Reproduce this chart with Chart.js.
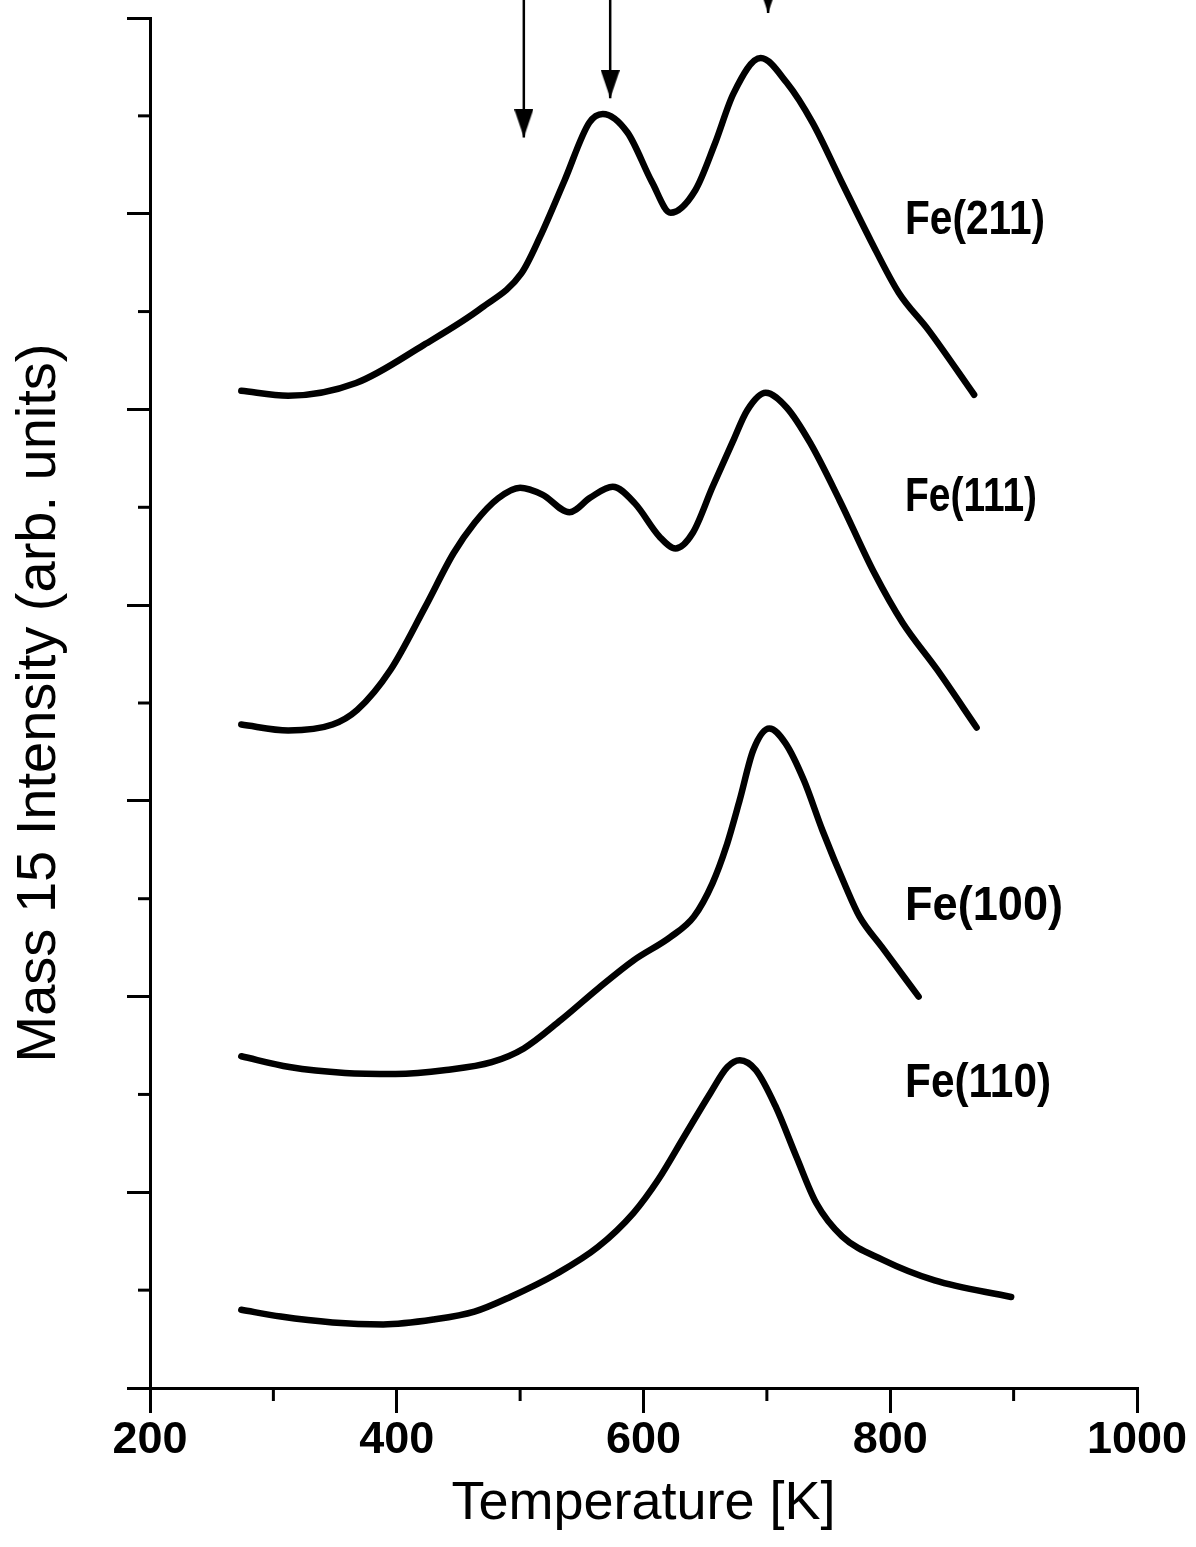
<!DOCTYPE html>
<html><head><meta charset="utf-8">
<script src="https://cdn.jsdelivr.net/npm/chart.js@4.4.1/dist/chart.umd.min.js"></script>
<style>html,body{margin:0;padding:0;background:#fff;}canvas{display:block;}</style>
</head><body>
<canvas id="c" width="1196" height="1547"></canvas>
<script>
// ---- data ----
const fe211T = [274, 312, 367, 422, 469, 501, 516, 536, 556, 567, 587, 607, 622, 642, 658, 673, 695, 716, 737, 760, 784, 807, 831, 868];
const fe211V = [10.19, 10.14, 10.27, 10.66, 11.04, 11.39, 11.76, 12.34, 12.93, 13.02, 12.83, 12.32, 12.01, 12.24, 12.72, 13.23, 13.59, 13.34, 12.93, 12.34, 11.73, 11.19, 10.81, 10.15];

const fe111T = [274, 312, 348, 368, 395, 423, 446, 463, 482, 500, 518, 540, 557, 575, 593, 613, 626, 640, 656, 672, 684, 699, 716, 735, 759, 787, 810, 838, 870];
const fe111V = [6.78, 6.72, 6.78, 6.93, 7.34, 7.98, 8.53, 8.84, 9.09, 9.20, 9.13, 8.95, 9.10, 9.21, 9.04, 8.70, 8.58, 8.74, 9.21, 9.66, 9.99, 10.17, 10.02, 9.66, 9.07, 8.33, 7.82, 7.34, 6.75];

const fe100T = [274, 313, 358, 399, 440, 477, 503, 533, 563, 592, 622, 641, 656, 667, 678, 689, 702, 715, 730, 745, 764, 775, 793, 823];
const fe100V = [3.39, 3.28, 3.22, 3.21, 3.25, 3.33, 3.47, 3.76, 4.08, 4.37, 4.61, 4.82, 5.16, 5.53, 6.01, 6.52, 6.74, 6.59, 6.21, 5.70, 5.12, 4.82, 4.51, 4.00];

const fe110T = [274, 306, 348, 389, 430, 463, 492, 530, 563, 592, 612, 633, 654, 668, 678, 691, 707, 724, 740, 761, 794, 836, 898];
const fe110V = [0.80, 0.73, 0.67, 0.65, 0.70, 0.78, 0.93, 1.17, 1.44, 1.79, 2.13, 2.57, 3.01, 3.28, 3.35, 3.25, 2.88, 2.36, 1.89, 1.55, 1.31, 1.10, 0.93];

const seriesNames = ['Fe(211)', 'Fe(111)', 'Fe(100)', 'Fe(110)'];

// arrows marking peak temperatures
const arrowT = [503, 573, 701];
const arrowTipV = [12.78, 13.18, 14.05];

// axis ticks
const xMajorTicks = [200, 400, 600, 800, 1000];
const xMinorTicks = [300, 500, 700, 900];
const yMajorTicks = [0, 2, 4, 6, 8, 10, 12, 14];
const yMinorTicks = [1, 3, 5, 7, 9, 11, 13];

// ---- layout / style (not data) ----
const labelAnchor = [
  {x: 812, y: 11.93, w: 140},
  {x: 812, y: 9.10, w: 132},
  {x: 812, y: 4.92, w: 158},
  {x: 812, y: 3.11, w: 146}
];
const ARROW_TOP = 14.6;

function pts(T, V) { return T.map((t, i) => ({x: t, y: V[i]})); }

function arrowHead(w, h) {
  const c = document.createElement('canvas');
  c.width = w; c.height = 2 * h;
  const g = c.getContext('2d');
  g.fillStyle = '#000';
  g.beginPath();
  g.moveTo(0, 0); g.lineTo(w, 0); g.lineTo(w / 2, h); g.closePath();
  g.fill();
  return c;
}
const headImg = arrowHead(19, 28);

const curveStyle = {
  borderColor: '#000', borderWidth: 6.5, pointRadius: 0, fill: false,
  cubicInterpolationMode: 'monotone', borderCapStyle: 'round', borderJoinStyle: 'round'
};

const datasets = [
  Object.assign({label: seriesNames[0], data: pts(fe211T, fe211V)}, curveStyle),
  Object.assign({label: seriesNames[1], data: pts(fe111T, fe111V)}, curveStyle),
  Object.assign({label: seriesNames[2], data: pts(fe100T, fe100V)}, curveStyle),
  Object.assign({label: seriesNames[3], data: pts(fe110T, fe110V)}, curveStyle)
];
arrowT.forEach((t, i) => {
  datasets.push({
    label: 'arrow' + i,
    data: [{x: t, y: ARROW_TOP}, {x: t, y: arrowTipV[i]}],
    borderColor: '#000', borderWidth: 2.5, fill: false, tension: 0,
    pointStyle: headImg,
    pointRadius: c => c.dataIndex === 1 ? 10 : 0,
    pointHoverRadius: 0,
    clip: false
  });
});

const minorTicksPlugin = {
  id: 'minorTicks',
  afterDraw(chart) {
    const {ctx, scales: {x, y}} = chart;
    ctx.save();
    ctx.strokeStyle = '#000'; ctx.lineWidth = 3;
    xMinorTicks.forEach(v => {
      const px = x.getPixelForValue(v);
      ctx.beginPath(); ctx.moveTo(px, y.bottom); ctx.lineTo(px, y.bottom + 13); ctx.stroke();
    });
    yMinorTicks.forEach(v => {
      const py = y.getPixelForValue(v);
      ctx.beginPath(); ctx.moveTo(x.left, py); ctx.lineTo(x.left - 12, py); ctx.stroke();
    });
    ctx.restore();
  }
};

const seriesLabelPlugin = {
  id: 'seriesLabels',
  afterDatasetsDraw(chart) {
    const {ctx, scales: {x, y}} = chart;
    ctx.save();
    ctx.fillStyle = '#000';
    ctx.font = 'bold 49px "Liberation Sans", Arial, sans-serif';
    ctx.textBaseline = 'middle';
    ctx.textAlign = 'left';
    seriesNames.forEach((n, i) => {
      const a = labelAnchor[i];
      ctx.fillText(n, x.getPixelForValue(a.x), y.getPixelForValue(a.y), a.w);
    });
    ctx.restore();
  }
};

Chart.defaults.font.family = '"Liberation Sans", Arial, sans-serif';
Chart.defaults.color = '#000';

new Chart(document.getElementById('c'), {
  type: 'line',
  data: {datasets},
  options: {
    responsive: false,
    animation: false,
    events: [],
    layout: {padding: {left: 0, right: 59, top: 18, bottom: 0}},
    plugins: {legend: {display: false}, tooltip: {enabled: false}},
    scales: {
      x: {
        type: 'linear', position: 'bottom', min: 200, max: 1000,
        afterBuildTicks(s) { s.ticks = xMajorTicks.map(v => ({value: v})); },
        ticks: {
          color: '#000', padding: 5, maxRotation: 0, autoSkip: false,
          callback: v => String(v),
          font: {size: 45, weight: 'bold', lineHeight: 1}
        },
        grid: {display: true, drawOnChartArea: false, drawTicks: true, tickLength: 25, lineWidth: 3, tickWidth: 3, color: '#000', tickColor: '#000'},
        border: {display: true, color: '#000', width: 3},
        title: {display: true, text: 'Temperature [K]', color: '#000', font: {size: 54, lineHeight: 1}, padding: {top: 0, bottom: 16}},
        afterFit(s) { s.height = 159; }
      },
      y: {
        type: 'linear', position: 'left', min: 0, max: 14,
        afterBuildTicks(s) { s.ticks = yMajorTicks.map(v => ({value: v})); },
        ticks: {display: false},
        grid: {display: true, drawOnChartArea: false, drawTicks: true, tickLength: 23, lineWidth: 3, tickWidth: 3, color: '#000', tickColor: '#000'},
        border: {display: true, color: '#000', width: 3},
        title: {display: true, text: 'Mass 15 Intensity (arb. units)', color: '#000', font: {size: 56, lineHeight: 1}, padding: {top: 12, bottom: 0}},
        afterFit(s) { s.width = 150; }
      }
    }
  },
  plugins: [minorTicksPlugin, seriesLabelPlugin]
});
</script>
</body></html>
